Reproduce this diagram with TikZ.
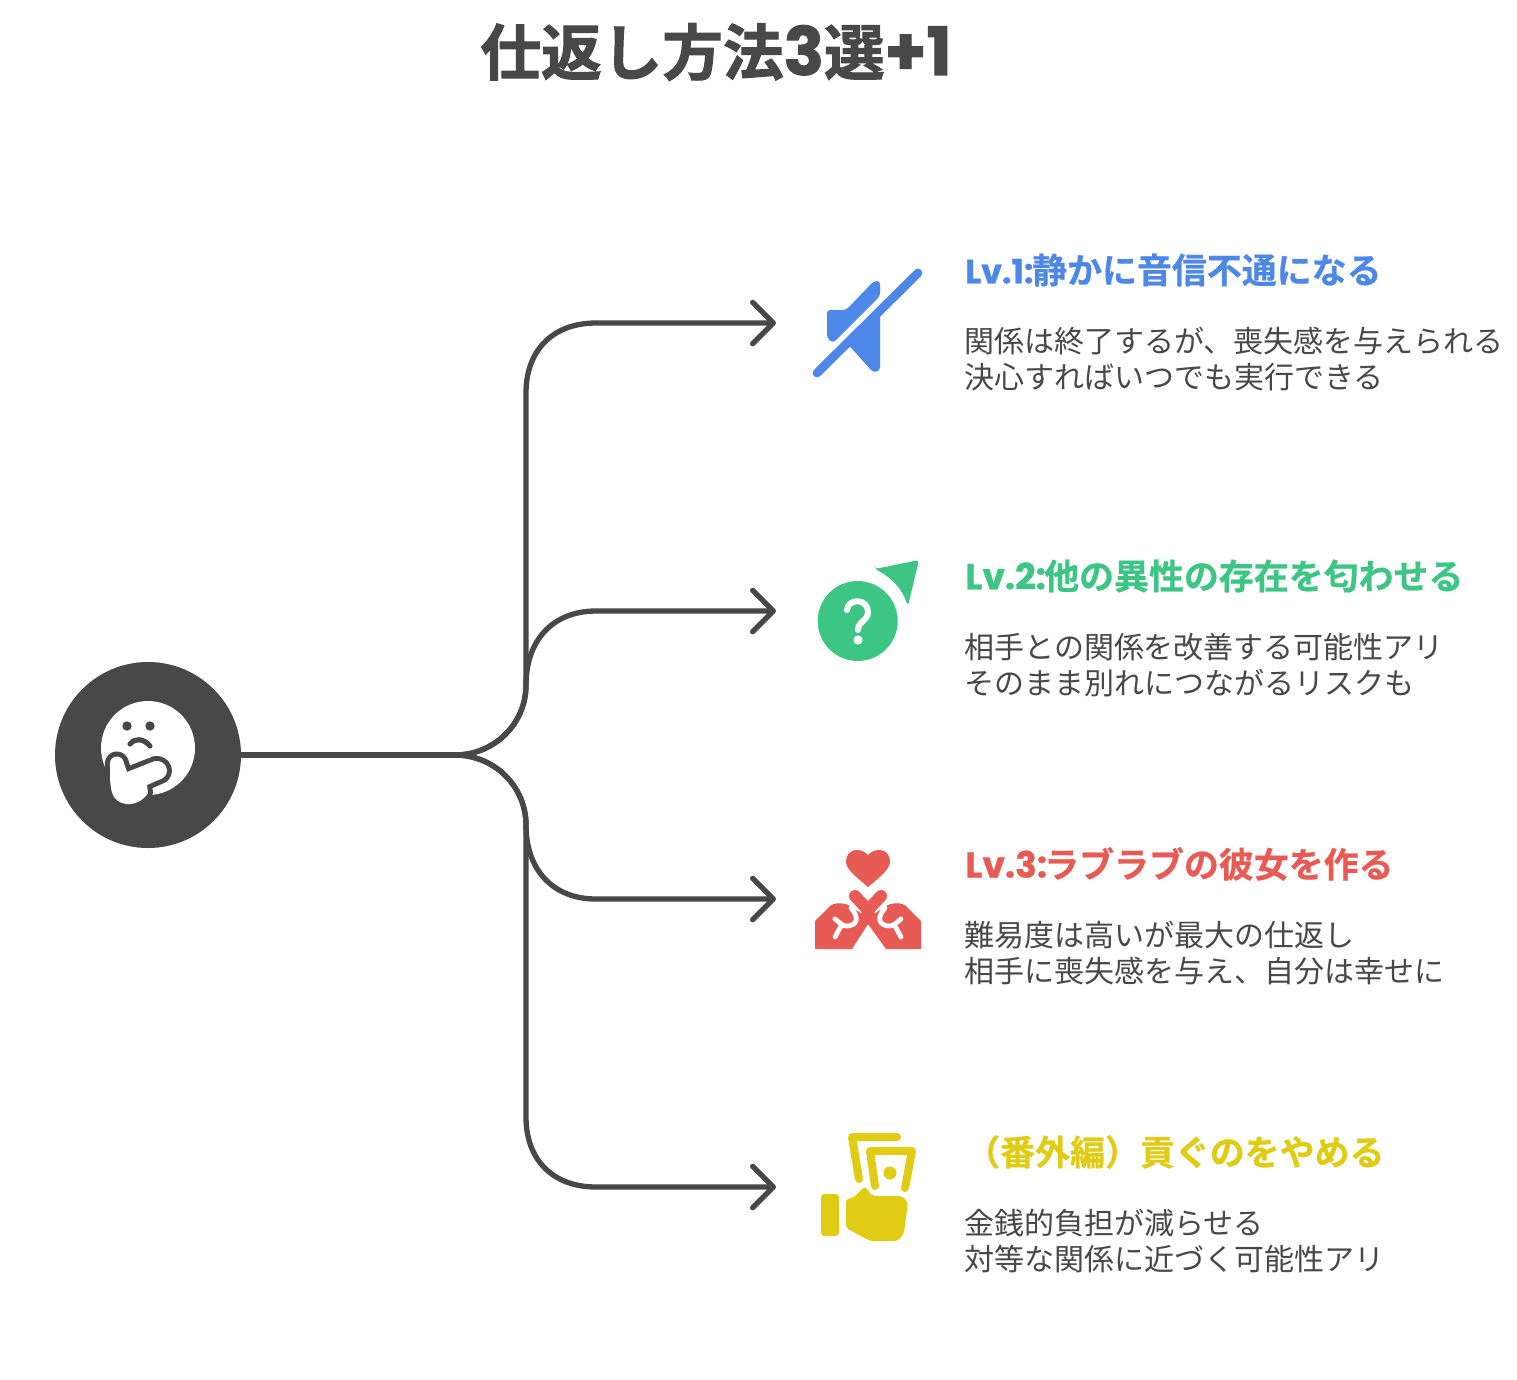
\documentclass[tikz,border=0pt]{standalone}
\usepackage{fontspec}
\usetikzlibrary{arrows.meta}
\setmainfont{Noto Sans CJK JP}
\newfontfamily\cjkbold[FakeBold=1.6]{Noto Sans CJK JP Bold}
\newfontfamily\cjkhead[FakeBold=0.6]{Noto Sans CJK JP Bold}
\newfontfamily\latinhead[FakeBold=0.8]{Poppins Bold}
\newfontfamily\latintitle[FakeBold=1.6]{Poppins Bold}
\definecolor{ink}{HTML}{484848}
\definecolor{cblue}{HTML}{4D87E8}
\definecolor{cgreen}{HTML}{3CC583}
\definecolor{cred}{HTML}{E85A54}
\definecolor{cyellow}{HTML}{E0CB15}
\tikzset{
  conn/.style={draw=ink,line width=4pt,line join=round,line cap=round},
  arrowed/.style={conn,-{Straight Barb[length=15.5pt,width=31pt,line width=4pt,round]}},
  headtext/.style={anchor=west,inner sep=0pt,font=\fontsize{26.2}{30}\cjkhead},
  bodytext/.style={anchor=west,inner sep=0pt,align=left,text=ink,font=\fontsize{22.5}{27}\selectfont},
  titletext/.style={anchor=center,inner sep=0pt,text=ink,font=\fontsize{45.5}{50}\cjkbold},
  hub/.style={circle,fill=ink,minimum size=139.5pt,inner sep=0pt},
  round stroke/.style={line cap=round,line join=round,fill=none},
  soft/.style={rounded corners=2.5pt},
}
\newcommand{\lvtext}[3]{\makebox[#1][l]{\fontsize{#2}{30}\latinhead #3}}
\newcommand{\handpath}{(110,767) .. controls (108,757) and (118,753) .. (123,760)
  -- (127,772) -- (155,761) .. controls (166,760) and (171,772) .. (163,778)
  -- (147,785) -- (148,793) .. controls (140,806) and (122,808) .. (114,797)
  .. controls (110,790) and (110,780) .. (110,767) -- cycle}
\begin{document}
\begin{tikzpicture}[x=0.75pt,y=-0.75pt]
\useasboundingbox (0,0) rectangle (1517,1379);
\fill[white] (0,0) rectangle (1517,1379);

% title
\node[titletext] (title) at (716,52) {仕返し方法{\fontsize{50}{50}\latintitle 3}選{\fontsize{50}{50}\latintitle +1}};

% hub
\node[hub] (root) at (148,755) {};
\fill[white] (148,748) circle (47);
\fill[ink] (127,726) circle (4.7) (150,726) circle (4.7);
\draw[ink,line width=3.9pt,round stroke] (130,744) .. controls (135,738) and (143,738) .. (150,746);
\draw[ink,line width=7.5pt,line join=round] \handpath;
\fill[white] \handpath;

% connector targets
\coordinate (t1) at (776,323);
\coordinate (t2) at (776,611);
\coordinate (t3) at (776,899);
\coordinate (t4) at (776,1187);
\coordinate (up) at (526,685);
\coordinate (down) at (526,825);
\coordinate (fork) at (455,755);

\draw[conn] (root.east) -- (fork);
\draw[arrowed] (fork) .. controls (494,755) and (526,724) .. (up) -- (526,393) .. controls (526,350) and (553,323) .. (596,323) -- (t1);
\draw[arrowed] (fork) .. controls (494,755) and (526,724) .. (up) .. controls (526,640) and (553,611) .. (596,611) -- (t2);
\draw[arrowed] (fork) .. controls (494,755) and (526,786) .. (down) .. controls (526,870) and (553,899) .. (596,899) -- (t3);
\draw[arrowed] (fork) .. controls (494,755) and (526,786) .. (down) -- (526,1117) .. controls (526,1160) and (553,1187) .. (596,1187) -- (t4);

% icon 1
\fill[cblue,soft] (827,310) -- (846,310) -- (874,281) -- (880,281) -- (880,296) -- (833,343) -- (827,338) -- cycle;
\fill[cblue] (880,306) -- (880,367) .. controls (880,372) and (874,373) .. (871,370) -- (846,342) -- cycle;
\draw[cblue,line width=6.6pt,round stroke] (817,373) -- (918,273);

% icon 2
\fill[cgreen] (857.7,621) circle (40);
\draw[white,line width=4.5pt,round stroke] (847,610) .. controls (848,598) and (868,598) .. (868,612) .. controls (868,621) and (858,621) .. (858,630);
\fill[white] (858,640) circle (4.6);
\fill[cgreen,soft] (875,569) -- (919,560) -- (908,606) .. controls (902,589) and (892,578) .. (875,569) -- cycle;

% icon 3
\fill[cred] (868,855) .. controls (861,847) and (846,848) .. (846,862) .. controls (846,870) and (860,880) .. (868,887) .. controls (876,880) and (890,870) .. (890,862) .. controls (890,848) and (875,847) .. (868,855) -- cycle;
\fill[cred] (815,921) -- (831,905) .. controls (838,902) and (845,903) .. (850,906) -- (868,918) -- (886,906) .. controls (891,903) and (898,902) .. (905,905) -- (921,921) -- (921,949) -- (886,949) -- (868,924) -- (852,949) -- (815,949) -- cycle;
\draw[white,line width=3.6pt,round stroke] (851,908) .. controls (860,918) and (857,926) .. (846,926) .. controls (842,926) and (838,921) .. (835,919);
\draw[white,line width=3.6pt,round stroke] (841,926) -- (835,937);
\draw[white,line width=3.6pt,round stroke] (885,908) .. controls (876,918) and (879,926) .. (890,926) .. controls (894,926) and (898,921) .. (901,919);
\draw[white,line width=3.6pt,round stroke] (895,926) -- (901,937);
\draw[cred,line width=9pt,round stroke] (855,896) -- (868,910) -- (881,896);
\fill[cred] (861,905) -- (875,905) -- (874,930) -- (868,924) -- (862,930) -- cycle;

% icon 4
\draw[cyellow,line width=6pt,round stroke] (897,1137) -- (852,1137) -- (859,1179);
\draw[cyellow,line width=6pt,round stroke] (875,1186) -- (870,1151) -- (912,1151) -- (905,1188);
\fill[cyellow] (890,1173) circle (6.5);
\fill[cyellow,soft] (821,1194) rectangle (839,1236);
\fill[cyellow,soft] (846,1199) -- (853,1198) -- (865,1186) -- (872,1196) -- (902,1196) -- (908,1202) -- (904,1233) -- (898,1241) -- (870,1241) -- (846,1228) -- cycle;

% texts
\node[headtext,text=cblue] (h1) at (965,270) {\lvtext{50.2pt}{25}{Lv.1:}静かに音信不通になる};
\node[bodytext] (b1) at (964,359) {関係は終了するが、喪失感を与えられる\\決心すればいつでも実行できる};
\node[headtext,text=cgreen] (h2) at (965,576) {\lvtext{59.2pt}{27}{Lv.2:}他の異性の存在を匂わせる};
\node[bodytext] (b2) at (964,665) {相手との関係を改善する可能性アリ\\そのまま別れにつながるリスクも};
\node[headtext,text=cred] (h3) at (965,864) {\lvtext{59.2pt}{27}{Lv.3:}ラブラブの彼女を作る};
\node[bodytext] (b3) at (964,953) {難易度は高いが最大の仕返し\\相手に喪失感を与え、自分は幸せに};
\node[headtext,text=cyellow] (h4) at (965,1152) {（番外編）貢ぐのをやめる};
\node[bodytext] (b4) at (964,1241) {金銭的負担が減らせる\\対等な関係に近づく可能性アリ};
\end{tikzpicture}
\end{document}
